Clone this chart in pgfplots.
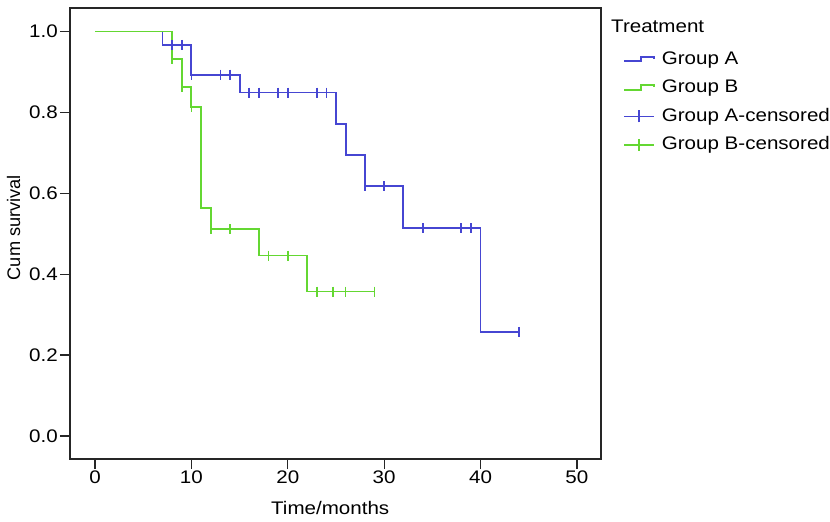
\documentclass[border=0pt]{standalone}
\usepackage{fontspec}
\setmainfont{Liberation Sans}[FakeStretch=1.13]
\newfontfamily\ylabfont{Liberation Sans}
\usepackage{pgfplots}
\pgfplotsset{compat=1.18}
\definecolor{grpA}{RGB}{70,70,210}
\definecolor{grpB}{RGB}{100,215,50}
\begin{document}
\fontsize{18.2bp}{22bp}\selectfont
\begin{tikzpicture}
\useasboundingbox (-70bp,-63bp) rectangle (760bp,459bp);
\begin{axis}[
  at={(0,0)}, anchor=south west,
  scale only axis, width=531bp, height=451bp,
  xmin=-2.6, xmax=52.5, ymin=-0.057, ymax=1.058,
  xtick={0,10,20,30,40,50}, ytick={0,0.2,0.4,0.6,0.8,1.0},
  /pgf/number format/assume math mode=true,
  yticklabel style={inner sep=2bp, /pgf/number format/.cd, fixed, fixed zerofill, precision=1},
  xticklabel style={inner sep=2bp},
  tick align=outside, tick pos=left,
  major tick length=10bp,
  every tick/.style={black!85, line width=1.2bp},
  axis line style={black!85, line width=1.2bp},
  xlabel={Time/months}, ylabel={\ylabfont Cum survival},
  every axis x label/.style={at={(axis description cs:0.49,0)}, yshift=-49bp, anchor=center},
  every axis y label/.style={at={(axis description cs:0,0.513)}, xshift=-56.5bp, anchor=center, rotate=90},
  legend style={at={(axis description cs:1.0414,0.9066)}, anchor=north west, draw=none, fill=none,
    inner sep=0pt, row sep=10.5bp,
    nodes={inner sep=0pt, inner xsep=7bp, text height=14bp, text depth=4bp, anchor=west}},
  legend cell align=left,
  clip=false,
]
% Group A step curve
\addplot[grpA, line width=1.9bp, const plot,
  legend image code/.code={\draw[grpA, line width=1.7bp] (0bp,-2bp) -- (17bp,-2bp) -- (17bp,2.5bp) -- (30bp,2.5bp) -- (30bp,0.5bp);}]
  coordinates {(0,1) (7,0.967) (10,0.893) (15,0.849) (25,0.772) (26,0.694) (28,0.617) (32,0.514) (40,0.257) (44,0.257)};
\addlegendentry{Group A}
% Group B step curve
\addplot[grpB, line width=1.9bp, const plot,
  legend image code/.code={\draw[grpB, line width=1.7bp] (0bp,-2bp) -- (17bp,-2bp) -- (17bp,2.5bp) -- (30bp,2.5bp) -- (30bp,0.5bp);}]
  coordinates {(0,1) (8,0.933) (9,0.862) (10,0.814) (11,0.563) (12,0.511) (17,0.446) (22,0.357) (29,0.357)};
\addlegendentry{Group B}
% Group A censored
\addplot[grpA, only marks, mark=|, mark size=5bp, mark options={line width=1.6bp},
  legend image code/.code={\draw[grpA, line width=1.6bp] (0bp,0bp) -- (30bp,0bp) (15bp,-6bp) -- (15bp,6bp);}]
  coordinates {(8,0.967) (9,0.967) (10,0.893) (13,0.893) (14,0.893) (16,0.849) (17,0.849) (19,0.849) (20,0.849) (23,0.849) (24,0.849) (28,0.617) (30,0.617) (34,0.514) (38,0.514) (39,0.514) (44,0.257)};
\addlegendentry{Group A-censored}
% Group B censored
\addplot[grpB, only marks, mark=|, mark size=5bp, mark options={line width=1.6bp},
  legend image code/.code={\draw[grpB, line width=1.6bp] (0bp,0bp) -- (30bp,0bp) (15bp,-6bp) -- (15bp,6bp);}]
  coordinates {(8,0.933) (9,0.862) (10,0.814) (12,0.511) (14,0.511) (18,0.446) (20,0.446) (23,0.357) (24.7,0.357) (26,0.357) (29,0.357)};
\addlegendentry{Group B-censored}
\end{axis}
\node[anchor=west, inner sep=0pt] at (541bp,433bp) {Treatment};
\end{tikzpicture}
\end{document}
